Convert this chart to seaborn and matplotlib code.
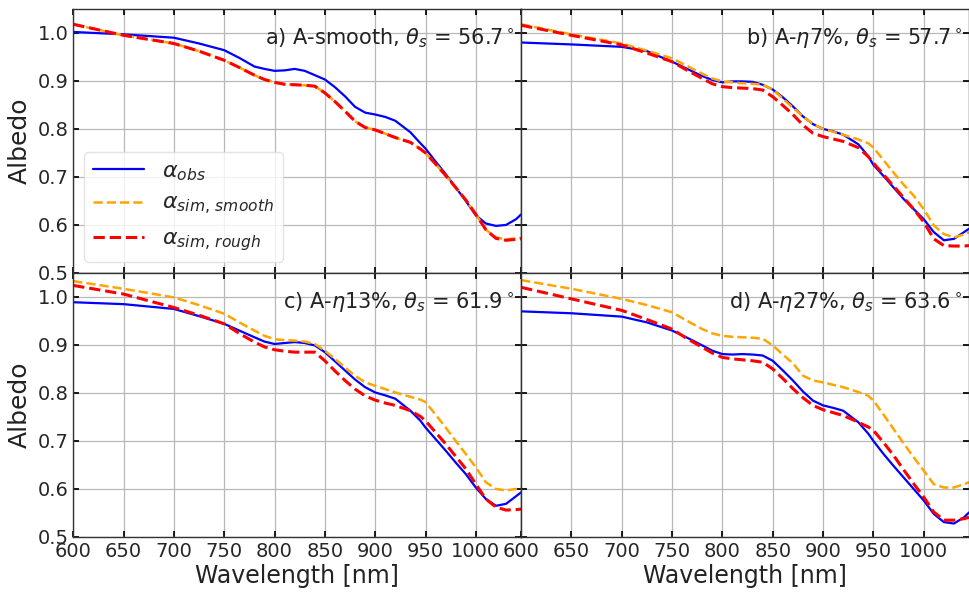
import numpy as np
import pandas as pd
import matplotlib
matplotlib.use("Agg")
import matplotlib.pyplot as plt
from matplotlib.ticker import MultipleLocator, FormatStrFormatter
import seaborn as sns

wavelength = [600, 650, 700, 725, 750, 765, 780, 790, 800, 810, 820, 830, 840, 850, 860, 870,
              880, 890, 900, 910, 920, 935, 945, 950, 960, 970, 980, 990, 1000, 1010, 1020,
              1030, 1040, 1045]

a_obs = [1.002, 0.997, 0.990, 0.978, 0.964, 0.948, 0.930, 0.925, 0.921, 0.922, 0.925, 0.921,
         0.912, 0.903, 0.887, 0.868, 0.846, 0.834, 0.830, 0.825, 0.817, 0.793, 0.770, 0.759,
         0.732, 0.706, 0.678, 0.650, 0.620, 0.603, 0.598, 0.600, 0.612, 0.622]
a_smooth = [1.018, 0.995, 0.978, 0.962, 0.943, 0.928, 0.912, 0.903, 0.897, 0.893, 0.892, 0.891,
            0.889, 0.875, 0.857, 0.837, 0.816, 0.803, 0.798, 0.790, 0.782, 0.772, 0.758, 0.750,
            0.727, 0.703, 0.678, 0.652, 0.622, 0.590, 0.574, 0.570, 0.572, 0.573]
a_rough = [1.018, 0.995, 0.978, 0.962, 0.943, 0.928, 0.912, 0.903, 0.897, 0.893, 0.892, 0.891,
           0.889, 0.875, 0.857, 0.837, 0.816, 0.803, 0.798, 0.790, 0.782, 0.772, 0.758, 0.750,
           0.727, 0.703, 0.678, 0.652, 0.622, 0.590, 0.572, 0.568, 0.570, 0.571]

b_obs = [0.980, 0.976, 0.971, 0.962, 0.940, 0.925, 0.910, 0.902, 0.897, 0.899, 0.899, 0.898,
         0.892, 0.882, 0.866, 0.847, 0.826, 0.810, 0.800, 0.795, 0.788, 0.768, 0.743, 0.725,
         0.702, 0.678, 0.654, 0.633, 0.612, 0.585, 0.568, 0.571, 0.585, 0.592]
b_smooth = [1.018, 0.997, 0.978, 0.963, 0.947, 0.931, 0.915, 0.905, 0.899, 0.897, 0.895, 0.894,
            0.892, 0.882, 0.863, 0.844, 0.826, 0.810, 0.800, 0.794, 0.788, 0.778, 0.770, 0.761,
            0.735, 0.709, 0.684, 0.661, 0.633, 0.599, 0.581, 0.574, 0.580, 0.585]
b_rough = [1.016, 0.995, 0.975, 0.958, 0.940, 0.922, 0.905, 0.894, 0.888, 0.886, 0.885, 0.884,
           0.881, 0.867, 0.849, 0.830, 0.808, 0.791, 0.784, 0.779, 0.774, 0.761, 0.742, 0.729,
           0.705, 0.681, 0.657, 0.633, 0.606, 0.571, 0.557, 0.556, 0.556, 0.557]

c_obs = [0.989, 0.985, 0.975, 0.960, 0.944, 0.930, 0.916, 0.907, 0.902, 0.904, 0.906, 0.904,
         0.899, 0.885, 0.866, 0.847, 0.828, 0.812, 0.801, 0.795, 0.788, 0.763, 0.742, 0.728,
         0.704, 0.680, 0.655, 0.631, 0.603, 0.579, 0.565, 0.569, 0.585, 0.593]
c_smooth = [1.033, 1.017, 0.999, 0.983, 0.965, 0.947, 0.930, 0.919, 0.912, 0.910, 0.909, 0.907,
            0.902, 0.888, 0.871, 0.853, 0.836, 0.822, 0.815, 0.808, 0.801, 0.792, 0.786, 0.781,
            0.755, 0.728, 0.700, 0.673, 0.645, 0.614, 0.600, 0.597, 0.600, 0.603]
c_rough = [1.024, 1.006, 0.978, 0.962, 0.944, 0.924, 0.906, 0.896, 0.890, 0.887, 0.885, 0.885,
           0.885, 0.867, 0.846, 0.826, 0.808, 0.794, 0.785, 0.779, 0.774, 0.763, 0.751, 0.742,
           0.718, 0.694, 0.668, 0.642, 0.610, 0.579, 0.562, 0.556, 0.557, 0.558]

d_obs = [0.970, 0.966, 0.959, 0.947, 0.930, 0.915, 0.899, 0.888, 0.881, 0.880, 0.881, 0.880,
         0.878, 0.867, 0.847, 0.826, 0.803, 0.784, 0.774, 0.769, 0.763, 0.739, 0.715, 0.700,
         0.673, 0.648, 0.624, 0.600, 0.576, 0.548, 0.531, 0.528, 0.541, 0.551]
d_smooth = [1.035, 1.017, 0.996, 0.983, 0.968, 0.950, 0.933, 0.924, 0.919, 0.917, 0.916, 0.915,
            0.913, 0.899, 0.880, 0.862, 0.836, 0.826, 0.822, 0.817, 0.812, 0.802, 0.794, 0.784,
            0.755, 0.725, 0.695, 0.666, 0.638, 0.610, 0.603, 0.603, 0.610, 0.614]
d_rough = [1.020, 0.996, 0.972, 0.953, 0.933, 0.913, 0.895, 0.883, 0.874, 0.871, 0.869, 0.867,
           0.864, 0.850, 0.830, 0.809, 0.790, 0.774, 0.765, 0.759, 0.753, 0.739, 0.729, 0.722,
           0.697, 0.670, 0.640, 0.611, 0.583, 0.552, 0.535, 0.535, 0.538, 0.541]

panel_titles = [r'a) A-smooth, $\theta_s$ = 56.7$^\circ$',
                r'b) A-$\eta$7%, $\theta_s$ = 57.7$^\circ$',
                r'c) A-$\eta$13%, $\theta_s$ = 61.9$^\circ$',
                r'd) A-$\eta$27%, $\theta_s$ = 63.6$^\circ$']
series_labels = [r'$\alpha_{obs}$', r'$\alpha_{sim,\,smooth}$', r'$\alpha_{sim,\,rough}$']

panels = [(a_obs, a_smooth, a_rough), (b_obs, b_smooth, b_rough),
          (c_obs, c_smooth, c_rough), (d_obs, d_smooth, d_rough)]

sns.set_theme(style="ticks")
plt.rcParams['font.family'] = ['DejaVu Sans']
plt.rcParams['mathtext.fontset'] = 'dejavusans'

fig, axes = plt.subplots(2, 2, figsize=(9.7, 5.94), dpi=100, sharex=True, sharey=True)
fig.subplots_adjust(left=0.0755, right=0.999, top=0.985, bottom=0.096, wspace=0, hspace=0)

styles = [dict(color='#0000ff', linestyle='-', linewidth=1.6),
          dict(color='orange', linestyle='--', linewidth=1.8),
          dict(color='#ff0000', linestyle='--', linewidth=2.2)]

for i, ax in enumerate(axes.flat):
    for vals, lab, st in zip(panels[i], series_labels, styles):
        df = pd.DataFrame({'wavelength': wavelength, 'albedo': vals})
        sns.lineplot(data=df, x='wavelength', y='albedo', ax=ax, label=lab, **st)
    ax.set_xlim(600, 1045)
    ax.set_ylim(0.5, 1.05)
    ax.xaxis.set_major_locator(MultipleLocator(50))
    ax.yaxis.set_major_locator(MultipleLocator(0.1))
    ax.yaxis.set_major_formatter(FormatStrFormatter('%.1f'))
    ax.grid(True, color='#b8b8b8', linewidth=0.9)
    ax.tick_params(direction='in', top=True, right=True, labelsize=14, length=4, color='black')
    for sp in ax.spines.values():
        sp.set_color('#333333')
        sp.set_linewidth(1.0)
    ax.text(0.985, 0.935, panel_titles[i], transform=ax.transAxes, ha='right', va='top',
            fontsize=15, color='#222222')
    if i == 0:
        leg = ax.legend(loc='lower left', fontsize=16, frameon=True, handlelength=2.3)
        leg.get_frame().set_edgecolor('#dddddd')
    else:
        lg = ax.get_legend()
        if lg is not None:
            lg.remove()
    if i % 2 == 0:
        ax.set_ylabel('Albedo', fontsize=18, color='#222222')
    else:
        ax.set_ylabel('')
    if i >= 2:
        ax.set_xlabel('Wavelength [nm]', fontsize=17, color='#222222', labelpad=2)
    else:
        ax.set_xlabel('')

fig.savefig('out.png', dpi=100)
